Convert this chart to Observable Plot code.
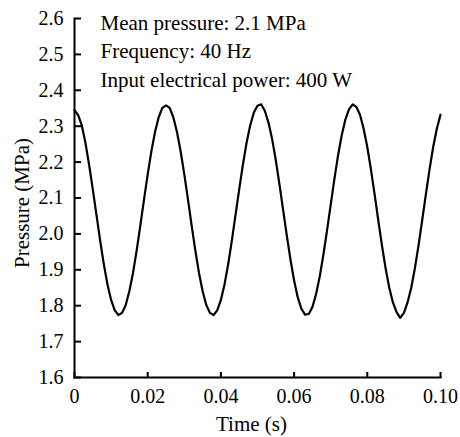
<!DOCTYPE html>
<html>
<head>
<meta charset="utf-8">
<script src="https://cdn.jsdelivr.net/npm/d3@7"></script>
<script src="https://cdn.jsdelivr.net/npm/@observablehq/plot@0.6"></script>
<style>
  html, body { margin: 0; padding: 0; background: #fff; overflow: hidden; }
  #chart svg { display: block; }
</style>
</head>
<body>
<div id="chart"></div>
<script>
const timeS = [
  0.000, 0.001, 0.002, 0.003, 0.004, 0.005, 0.006, 0.007, 0.008, 0.009,
  0.010, 0.011, 0.012, 0.013, 0.014, 0.015, 0.016, 0.017, 0.018, 0.019,
  0.020, 0.021, 0.022, 0.023, 0.024, 0.025, 0.026, 0.027, 0.028, 0.029,
  0.030, 0.031, 0.032, 0.033, 0.034, 0.035, 0.036, 0.037, 0.038, 0.039,
  0.040, 0.041, 0.042, 0.043, 0.044, 0.045, 0.046, 0.047, 0.048, 0.049,
  0.050, 0.051, 0.052, 0.053, 0.054, 0.055, 0.056, 0.057, 0.058, 0.059,
  0.060, 0.061, 0.062, 0.063, 0.064, 0.065, 0.066, 0.067, 0.068, 0.069,
  0.070, 0.071, 0.072, 0.073, 0.074, 0.075, 0.076, 0.077, 0.078, 0.079,
  0.080, 0.081, 0.082, 0.083, 0.084, 0.085, 0.086, 0.087, 0.088, 0.089,
  0.090, 0.091, 0.092, 0.093, 0.094, 0.095, 0.096, 0.097, 0.098, 0.099,
  0.100
];
const pressureMPa = [
  2.345, 2.331, 2.302, 2.253, 2.192, 2.124, 2.053, 1.982, 1.916, 1.860,
  1.816, 1.787, 1.774, 1.780, 1.802, 1.841, 1.892, 1.955, 2.024, 2.096,
  2.166, 2.230, 2.284, 2.325, 2.351, 2.358, 2.351, 2.325, 2.284, 2.230,
  2.166, 2.096, 2.024, 1.955, 1.892, 1.841, 1.802, 1.780, 1.774, 1.787,
  1.816, 1.860, 1.916, 1.982, 2.053, 2.124, 2.192, 2.253, 2.302, 2.338,
  2.357, 2.361, 2.343, 2.310, 2.264, 2.205, 2.138, 2.067, 1.996, 1.929,
  1.870, 1.823, 1.791, 1.775, 1.777, 1.796, 1.832, 1.881, 1.942, 2.010,
  2.081, 2.152, 2.218, 2.274, 2.318, 2.347, 2.361, 2.354, 2.332, 2.293,
  2.242, 2.179, 2.110, 2.038, 1.968, 1.904, 1.850, 1.809, 1.782, 1.766,
  1.780, 1.809, 1.850, 1.904, 1.968, 2.038, 2.110, 2.179, 2.242, 2.293,
  2.332
];
const xTicks = [0, 0.02, 0.04, 0.06, 0.08, 0.10];
const xTickLabels = ["0", "0.02", "0.04", "0.06", "0.08", "0.10"];
const yTicks = [1.6, 1.7, 1.8, 1.9, 2.0, 2.1, 2.2, 2.3, 2.4, 2.5, 2.6];
const yTickLabels = ["1.6", "1.7", "1.8", "1.9", "2.0", "2.1", "2.2", "2.3", "2.4", "2.5", "2.6"];
const xLabel = "Time (s)";
const yLabel = "Pressure (MPa)";
const annotations = ["Mean pressure: 2.1 MPa", "Frequency: 40 Hz", "Input electrical power: 400 W"];

const data = timeS.map((t, i) => ({t, p: pressureMPa[i]}));

const W = 460, H = 437, ML = 74, MR = 20, MT = 18, MB = 60, TICK = 6;
const frameW = W - ML - MR, frameH = H - MT - MB;

const chart = Plot.plot({
  width: W,
  height: H,
  marginLeft: ML,
  marginRight: MR,
  marginTop: MT,
  marginBottom: MB,
  style: {fontFamily: "'Liberation Serif', 'Times New Roman', serif", fontSize: "20px", background: "white", color: "black"},
  x: {domain: [xTicks[0], xTicks[xTicks.length - 1]]},
  y: {domain: [yTicks[0], yTicks[yTicks.length - 1]]},
  marks: [
    // inward tick marks: an axis anchored on the opposite side, shifted onto the frame edge
    Plot.axisX({ticks: xTicks, anchor: "top", tickSize: TICK, tickFormat: () => "", dy: frameH, strokeWidth: 2, label: null}),
    Plot.axisY({ticks: yTicks, anchor: "right", tickSize: TICK, tickFormat: () => "", dx: -frameW, strokeWidth: 2, label: null}),
    // tick labels
    Plot.axisX({ticks: xTicks, tickFormat: (d, i) => xTickLabels[i], tickSize: 0, tickPadding: 11, label: null}),
    Plot.axisY({ticks: yTicks, tickFormat: (d, i) => yTickLabels[i], tickSize: 0, tickPadding: 11, label: null}),
    Plot.frame({anchor: "left", strokeWidth: 2}),
    Plot.frame({anchor: "bottom", strokeWidth: 2}),
    Plot.line(data, {x: "t", y: "p", stroke: "black", strokeWidth: 2.2}),
    Plot.text([annotations.join("\n")], {frameAnchor: "top-left", textAnchor: "start", lineAnchor: "top", dx: 26, dy: -9, lineHeight: 1.36, fontSize: 21}),
    Plot.text([xLabel], {frameAnchor: "bottom", lineAnchor: "bottom", dy: 53, dx: -6, fontSize: 21}),
    Plot.text([yLabel], {frameAnchor: "left", textAnchor: "middle", lineAnchor: "middle", rotate: -90, dx: -52, dy: 5, fontSize: 21})
  ]
});
document.getElementById("chart").appendChild(chart);
</script>
</body>
</html>
